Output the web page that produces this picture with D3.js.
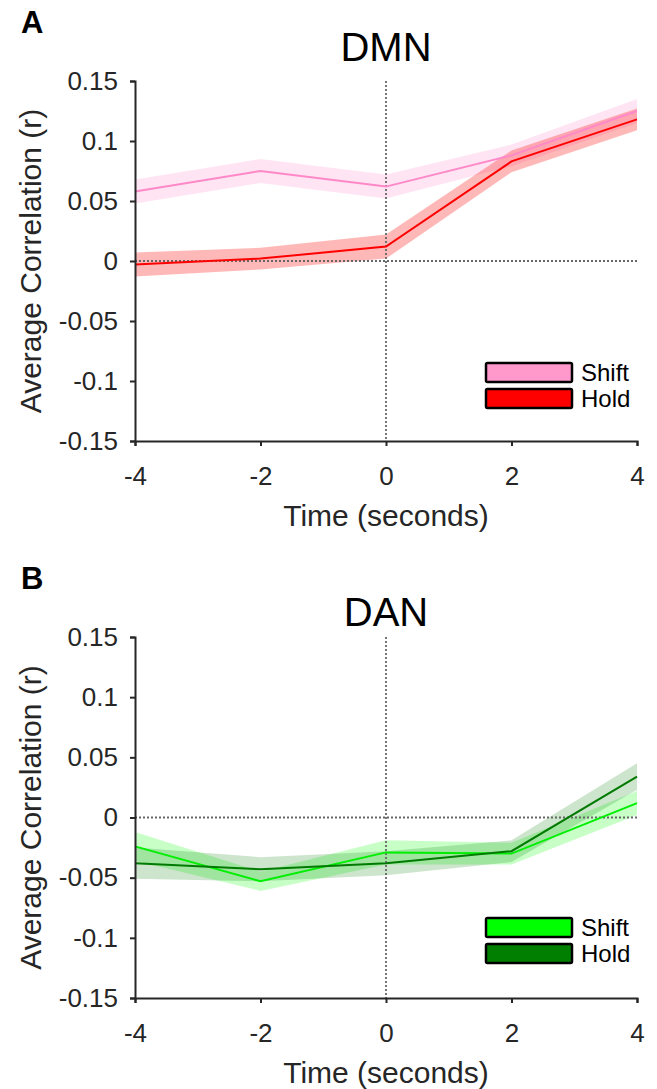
<!DOCTYPE html>
<html>
<head>
<meta charset="utf-8">
<script src="https://cdn.jsdelivr.net/npm/d3@7"></script>
<style>
    body { margin: 0; background: #fff; }
    svg { display: block; font-family: "Liberation Sans", Arial, sans-serif; }
</style>
</head>
<body>
<div id="chart"></div>
<script>
"use strict";

// time points (seconds)
const times = [-4, -2, 0, 2, 4];
const yTicks = [-0.15, -0.1, -0.05, 0, 0.05, 0.1, 0.15];
const xTicks = [-4, -2, 0, 2, 4];
const seriesNames = ["Shift", "Hold"];

// DMN
const dmnShift = [0.058, 0.075, 0.062, 0.088, 0.125];
const dmnShiftErr = [0.010, 0.010, 0.010, 0.009, 0.010];
const dmnHold = [-0.003, 0.002, 0.012, 0.083, 0.118];
const dmnHoldErr = [0.010, 0.009, 0.010, 0.009, 0.009];

// DAN
const danShift = [-0.024, -0.053, -0.029, -0.030, 0.012];
const danShiftErr = [0.012, 0.008, 0.010, 0.009, 0.010];
const danHold = [-0.038, -0.043, -0.038, -0.028, 0.034];
const danHoldErr = [0.013, 0.010, 0.010, 0.009, 0.011];

const W = 657, H = 1089;

const svg = d3.select("#chart").append("svg")
    .attr("width", W)
    .attr("height", H);

// plain hyphen for negatives, like the original figure
function fmt(v) {
    if (Math.abs(v) < 1e-9) return "0";
    return String(+v.toFixed(2));
}

function drawPanel(p) {
    const x = d3.scaleLinear().domain([-4, 4]).range([135, 637]);
    const y = d3.scaleLinear().domain([-0.15, 0.15]).range([p.bottom, p.top]);
    const g = svg.append("g");

    // panel letter + title
    g.append("text")
        .attr("x", 21).attr("y", p.letterY)
        .attr("font-size", 31).attr("font-weight", "bold")
        .text(p.letter);
    g.append("text")
        .attr("x", (x.range()[0] + x.range()[1]) / 2).attr("y", p.titleY)
        .attr("text-anchor", "middle")
        .attr("font-size", 40)
        .text(p.title);

    // shaded error bands
    const area = d3.area()
        .x(d => x(d.t))
        .y0(d => y(d.v - d.e))
        .y1(d => y(d.v + d.e));
    const line = d3.line()
        .x(d => x(d.t))
        .y(d => y(d.v));

    const rows = p.series.map(s => times.map((t, i) => ({ t: t, v: s.values[i], e: s.err[i] })));

    p.series.forEach((s, k) => {
        g.append("path")
            .attr("d", area(rows[k]))
            .attr("fill", s.band)
            .attr("fill-opacity", s.bandOpacity);
    });

    // dotted reference lines
    g.append("line")
        .attr("x1", x(0)).attr("x2", x(0))
        .attr("y1", y(0.15)).attr("y2", y(-0.15))
        .attr("stroke", "#666").attr("stroke-width", 1.8)
        .attr("stroke-dasharray", "2,2");
    g.append("line")
        .attr("x1", x(-4)).attr("x2", x(4))
        .attr("y1", y(0)).attr("y2", y(0))
        .attr("stroke", "#666").attr("stroke-width", 1.8)
        .attr("stroke-dasharray", "2,2");

    p.series.forEach((s, k) => {
        g.append("path")
            .attr("d", line(rows[k]))
            .attr("fill", "none")
            .attr("stroke", s.line)
            .attr("stroke-width", 2);
    });

    // axes
    const xAxis = g.append("g")
        .attr("transform", `translate(0,${p.bottom})`)
        .call(d3.axisBottom(x).tickValues(xTicks).tickSize(5).tickPadding(21).tickFormat(fmt));
    const yAxis = g.append("g")
        .attr("transform", `translate(${x.range()[0]},0)`)
        .call(d3.axisLeft(y).tickValues(yTicks).tickSize(5).tickPadding(12).tickFormat(fmt));

    [xAxis, yAxis].forEach(a => {
        a.select(".domain").attr("stroke", "#262626").attr("stroke-width", 2);
        a.selectAll(".tick line").attr("stroke", "#262626").attr("stroke-width", 2);
        a.selectAll(".tick text")
            .attr("fill", "#262626")
            .attr("font-size", 26)
            .attr("font-family", "Liberation Sans, Arial, sans-serif");
    });

    // axis labels
    g.append("text")
        .attr("x", (x.range()[0] + x.range()[1]) / 2).attr("y", p.bottom + 85)
        .attr("text-anchor", "middle")
        .attr("font-size", 30).attr("fill", "#262626")
        .text("Time (seconds)");
    g.append("text")
        .attr("transform", `translate(41,${(p.top + p.bottom) / 2}) rotate(-90)`)
        .attr("text-anchor", "middle")
        .attr("font-size", 30).attr("fill", "#262626")
        .text("Average Correlation (r)");

    // legend
    const leg = g.append("g").attr("transform", `translate(486,${p.legendY})`);
    p.series.forEach((s, k) => {
        leg.append("rect")
            .attr("x", 0).attr("y", k * 26)
            .attr("width", 86).attr("height", 19)
            .attr("rx", 1.5)
            .attr("fill", s.legend)
            .attr("stroke", "#000").attr("stroke-width", 2.5);
        leg.append("text")
            .attr("x", 95).attr("y", k * 26 + 18)
            .attr("font-size", 24)
            .text(seriesNames[k]);
    });
}

drawPanel({
    letter: "A", letterY: 33, title: "DMN", titleY: 61,
    top: 81, bottom: 441, legendY: 363,
    series: [
        { values: dmnShift, err: dmnShiftErr, line: "#ff88c8", band: "#ff88c8", bandOpacity: 0.22, legend: "#ff99cc" },
        { values: dmnHold, err: dmnHoldErr, line: "#ff0000", band: "#ff0000", bandOpacity: 0.28, legend: "#ff0000" }
    ]
});

drawPanel({
    letter: "B", letterY: 589, title: "DAN", titleY: 626,
    top: 637, bottom: 998, legendY: 918,
    series: [
        { values: danShift, err: danShiftErr, line: "#00ee00", band: "#00ff00", bandOpacity: 0.22, legend: "#00ff00" },
        { values: danHold, err: danHoldErr, line: "#007a00", band: "#007f00", bandOpacity: 0.2, legend: "#007f00" }
    ]
});
</script>
</body>
</html>
